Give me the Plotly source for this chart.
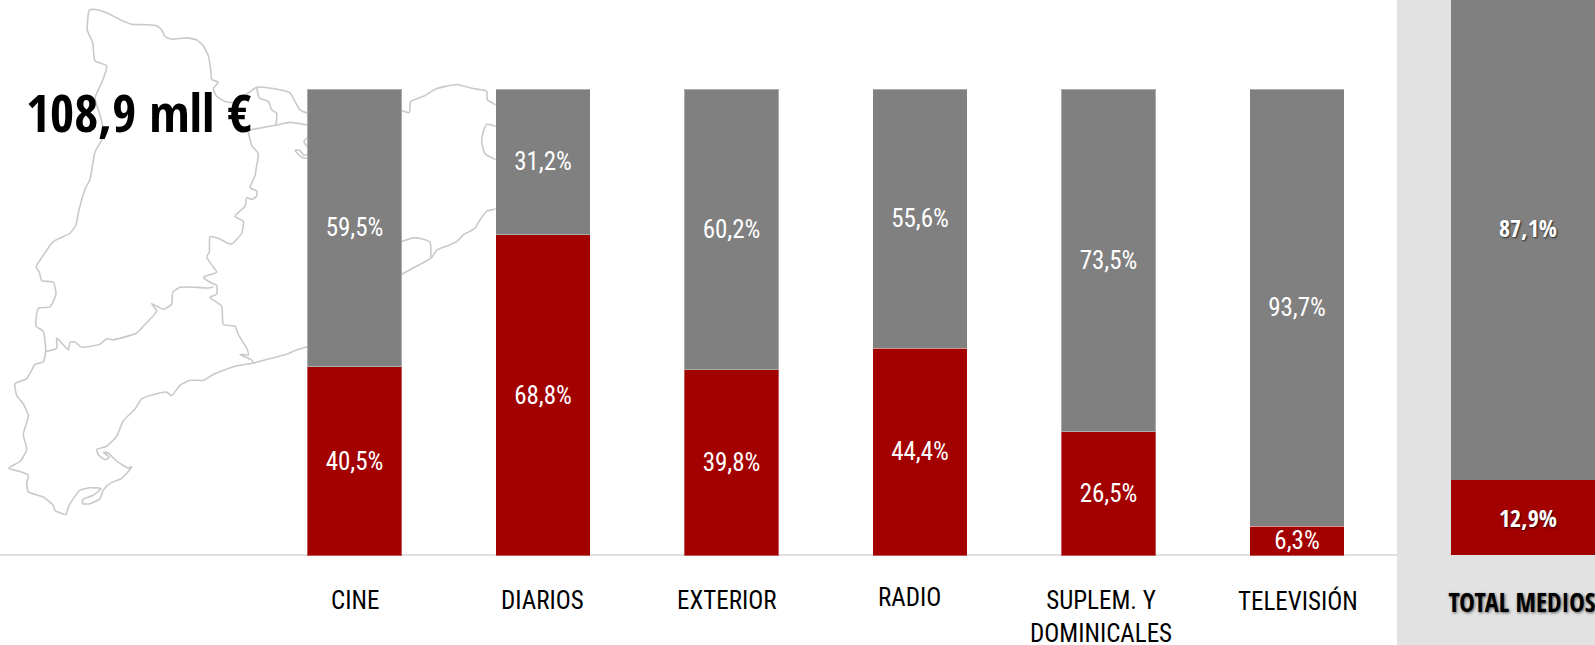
import plotly.graph_objects as go

CATEGORIES = ["CINE", "DIARIOS", "EXTERIOR", "RADIO", "SUPLEM. Y<br>DOMINICALES", "TELEVISIÓN"]
RED_VALUES = [40.5, 68.8, 39.8, 44.4, 26.5, 6.3]
GREY_VALUES = [59.5, 31.2, 60.2, 55.6, 73.5, 93.7]
RED_LABELS = ["40,5%", "68,8%", "39,8%", "44,4%", "26,5%", "6,3%"]
GREY_LABELS = ["59,5%", "31,2%", "60,2%", "55,6%", "73,5%", "93,7%"]
TOTAL_CATEGORY = ["TOTAL MEDIOS"]
TOTAL_RED = [12.9]
TOTAL_GREY = [87.1]
TOTAL_RED_LABEL = ["12,9%"]
TOTAL_GREY_LABEL = ["87,1%"]
HEADLINE = "108,9 mll €"
LABEL_XSHIFT = [0, -1, -5, -11, -8, 1]
LABEL_YSHIFT = [0, 0, 0, 3, 0, 0]

# Decorative map outline, in units of a 4785 x 1908 canvas
OUTER_X = [268,285,320,360,395,440,470,485,495,515,560,590,610,625,632,635,655,640,650,675,700,745,770,820,870,885,900,925,960,1205,1228,1232,1270,1310,1370,1420,1460,1462,1500,1500,1460,1440,1425,1390,1370,1340,1310,1295,1205,922,890,860,820,765,700,640,610,570,540,515,500,470,425,405,370,350,320,290,295,315,328,310,325,345,385,395,385,365,330,310,300,270,248,248,280,303,270,240,220,205,198,165,160,130,85,80,85,60,25,60,80,70,85,70,50,45,80,95,105,130,137,130,108,115,150,168,160,125,118,108,120,160,210,228,235,255,270,285,312,300,285,305,320,285,278,262,268]
OUTER_Y = [30,28,38,58,72,73,76,88,108,116,112,118,135,165,205,235,243,262,285,300,303,275,258,262,275,300,325,335,340,328,333,300,285,262,250,262,270,295,320,612,625,650,675,695,715,728,740,762,812,1025,1035,1048,1058,1073,1085,1108,1125,1125,1140,1170,1160,1165,1180,1210,1245,1290,1320,1330,1345,1360,1352,1338,1340,1360,1385,1380,1395,1415,1430,1450,1475,1490,1490,1478,1465,1445,1443,1450,1475,1500,1522,1510,1495,1470,1455,1430,1405,1395,1385,1365,1330,1285,1230,1195,1170,1135,1120,1095,1078,1070,1040,980,965,912,908,870,835,830,805,790,770,715,690,665,630,560,530,450,400,340,290,245,195,180,125,90,30]
BORDER_A_X = [745,755,775,770,765,750,770,770,755,740,735,705,730,725,695,680,655,630,628,620,640,650,610,630,650,650,630,665,670,705,715,740,745,720,755,762]
BORDER_A_Y = [390,430,455,490,520,555,565,580,590,585,610,640,655,690,722,718,705,700,745,760,790,805,820,835,845,870,880,905,960,965,990,1030,1050,1048,1065,1075]
BORDER_B_X = [137,170,170,190,205,210,225,245,300,320,340,410,430,470,455,490,515,518,540,590,625,640]
BORDER_B_Y = [1040,1030,1000,1020,1035,1012,1012,1027,1018,1002,1005,985,965,920,898,915,900,865,850,850,852,848]
BORDER_C_X = [745,830,870,935]
BORDER_C_Y = [385,370,362,372]
BORDER_D_X = [770,778,805,815,830,828]
BORDER_D_Y = [258,290,300,325,335,370]
BORDER_E_X = [935,912,920,935]
BORDER_E_Y = [395,418,432,440]
BORDER_F_X = [935,905,885,900,910,935]
BORDER_F_Y = [470,465,445,445,458,458]
BORDER_G_X = [1195,1245,1290,1292]
BORDER_G_Y = [718,703,716,760]
BORDER_H_X = [1500,1460,1450,1445,1455,1500]
BORDER_H_Y = [378,368,390,420,455,478]

MAP_PARTS = [(OUTER_X, OUTER_Y), (BORDER_A_X, BORDER_A_Y), (BORDER_B_X, BORDER_B_Y),
             (BORDER_C_X, BORDER_C_Y), (BORDER_D_X, BORDER_D_Y), (BORDER_E_X, BORDER_E_Y),
             (BORDER_F_X, BORDER_F_Y), (BORDER_G_X, BORDER_G_Y), (BORDER_H_X, BORDER_H_Y)]

RED = "#a30000"
GREY = "#808080"
NARROW = "Roboto Condensed"
BOLD = "Open Sans Condensed"
W, H = 1595, 645

fig = go.Figure()
for xs, ys in MAP_PARTS:
    fig.add_trace(go.Scatter(x=xs, y=ys, mode="lines", xaxis="x", yaxis="y", hoverinfo="skip",
                             line=dict(color="#c9c9c9", width=1.6, shape="spline", smoothing=0.5)))

edge = dict(color="rgba(255,255,255,0.35)", width=1)
label_font = dict(family=NARROW, size=25, color="white")
for vals, labels, color in [(RED_VALUES, RED_LABELS, RED), (GREY_VALUES, GREY_LABELS, GREY)]:
    fig.add_trace(go.Bar(x=CATEGORIES, y=vals, text=labels, xaxis="x2", yaxis="y2", width=0.5,
                         marker=dict(color=color, line=edge), textposition="inside",
                         insidetextanchor="middle", textangle=0, textfont=label_font,
                         constraintext="none", hoverinfo="skip"))
total_font = dict(family=BOLD, size=24, color="white", weight="bold",
                  shadow="1px 1px 2px rgba(0,0,0,0.7)")
for vals, labels, color in [(TOTAL_RED, TOTAL_RED_LABEL, RED), (TOTAL_GREY, TOTAL_GREY_LABEL, GREY)]:
    fig.add_trace(go.Bar(x=TOTAL_CATEGORY, y=vals, text=labels, xaxis="x3", yaxis="y3", width=0.82,
                         marker=dict(color=color, line=dict(width=0)), textposition="inside",
                         insidetextanchor="middle", textangle=0, textfont=total_font,
                         constraintext="none", hoverinfo="skip"))

hidden = dict(visible=False, fixedrange=True, automargin=False)
AXIS_POS = (H - 555) / H
STEP = 188.5
annotations = [dict(text=HEADLINE, xref="paper", yref="paper", x=24 / W, y=(H - 111) / H,
                    xanchor="left", yanchor="middle", showarrow=False,
                    font=dict(family=BOLD, size=52, color="black", weight="bold"))]
for i, cat in enumerate(CATEGORIES):
    annotations.append(dict(text=cat, xref="x2", yref="paper", x=i, y=(H - 584) / H, yanchor="top",
                            xanchor="center", xshift=LABEL_XSHIFT[i], yshift=LABEL_YSHIFT[i],
                            showarrow=False, align="center",
                            font=dict(family=NARROW, size=25, color="black")))
fig.update_layout(
    width=W, height=H, margin=dict(l=0, r=0, t=0, b=0, autoexpand=False), showlegend=False, barmode="stack",
    paper_bgcolor="white", plot_bgcolor="rgba(0,0,0,0)",
    xaxis=dict(range=[0, W * 3], domain=[0, 1], **hidden),
    yaxis=dict(range=[1908, 0], domain=[0, 1], **hidden),
    xaxis2=dict(overlaying="x", anchor="free", position=AXIS_POS, domain=[0, 1], automargin=False,
                type="category", categoryorder="array", categoryarray=CATEGORIES,
                range=[-354.5 / STEP, (W - 354.5) / STEP], showgrid=False, showline=True,
                linecolor="#e0e0e0", linewidth=2, layer="below traces",
                ticks="", showticklabels=False),
    yaxis2=dict(overlaying="y", domain=[0, 1], range=[(555.5 - H) / 4.665, 555.5 / 4.665], **hidden),
    xaxis3=dict(overlaying="x", anchor="free", position=AXIS_POS, domain=[0, 1], type="category", automargin=False,
                range=[-1528 / STEP, (W - 1528) / STEP], showgrid=False, showline=False,
                ticks="outside", ticklen=25, tickcolor="rgba(0,0,0,0)", ticklabelshift=-6,
                tickfont=dict(family=BOLD, size=26, color="black", weight="bold",
                              shadow="1px 1px 3px rgba(0,0,0,0.6)"), ticklabeloverflow="allow"),
    yaxis3=dict(overlaying="y", domain=[0, 1], range=[(555.2 - H) / 5.81, 555.2 / 5.81], **hidden),
    shapes=[dict(type="rect", xref="paper", yref="paper", x0=1397 / W, x1=1, y0=0, y1=1,
                 fillcolor="#e2e2e2", line=dict(width=0), layer="below")],
    annotations=annotations,
)
fig.write_html("out.html", config=dict(displayModeBar=False),
               post_script="document.body.style.margin='0';document.body.style.overflow='hidden';")
